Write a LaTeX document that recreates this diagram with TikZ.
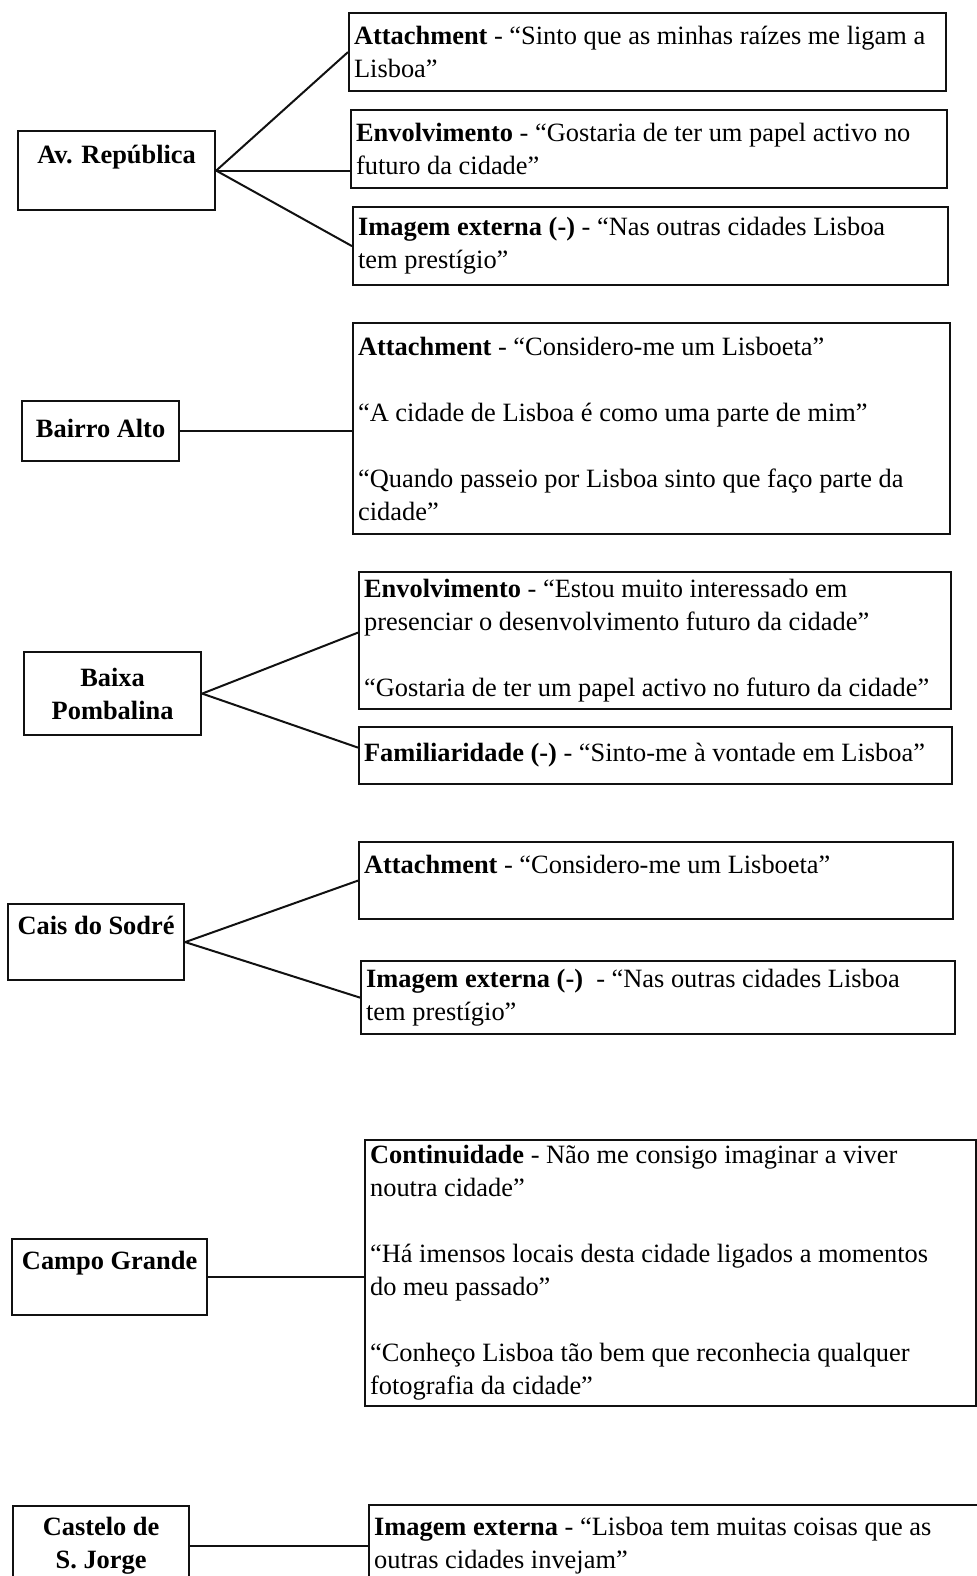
\documentclass[tikz,border=0pt]{standalone}
\usepackage{fontspec}
\setmainfont{Liberation Serif}
\usepackage{tikz}
\usetikzlibrary{positioning}
\definecolor{lxink}{HTML}{111111}
\newcommand{\lxfont}{\fontsize{13.2}{16.5}\selectfont}
\tikzset{
  pbox/.style 2 args={draw=lxink, line width=1.1pt, font=\lxfont\bfseries, align=center, inner sep=0pt, anchor=north west, minimum width=#1, minimum height=#2},
  qbox/.style 2 args={draw=lxink, line width=1.1pt, font=\lxfont, align=flush left, inner xsep=2.5pt, inner ysep=0pt, anchor=north west, text width=#1, minimum height=#2},
  link/.style={draw=lxink, line width=1pt},
}

\begin{document}
\begin{tikzpicture}[x=0.5pt, y=-0.5pt]
  \useasboundingbox (0,0) rectangle (976,1576);
  \node[pbox={98.5pt}{39.5pt}] (avr) at (17,130) {Av. República\\\mbox{}};
  \node[qbox={293.5pt}{39pt}] (avr1) at (348,12) {\textbf{Attachment} - “Sinto que as minhas raízes me ligam a\\Lisboa”};
  \node[qbox={293pt}{39pt}] (avr2) at (350,109) {\textbf{Envolvimento} - “Gostaria de ter um papel activo no\\futuro da cidade”};
  \node[qbox={292.5pt}{39pt}] (avr3) at (352,206) {\textbf{Imagem externa (-)} - “Nas outras cidades Lisboa\\tem prestígio”};

  \node[pbox={78.5pt}{30pt}] (balto) at (21,400) {\raisebox{3pt}{Bairro Alto}};
  \node[qbox={293.5pt}{105.5pt}] (balto1) at (352,322) {\textbf{Attachment} - “Considero-me um Lisboeta”\\[16.5pt]“A cidade de Lisboa é como uma parte de mim”\\[16.5pt]“Quando passeio por Lisboa sinto que faço parte da\\cidade”};

  \node[pbox={88.5pt}{41.5pt}] (baixa) at (23,651) {Baixa\\Pombalina};
  \node[qbox={291pt}{68.5pt}] (baixa1) at (358,571) {\textbf{Envolvimento} - “Estou muito interessado em\\presenciar o desenvolvimento futuro da cidade”\\[16.5pt]“Gostaria de ter um papel activo no futuro da cidade”};
  \node[qbox={291.5pt}{28.5pt}] (baixa2) at (358,726) {\textbf{Familiaridade (-)} - “Sinto-me à vontade em Lisboa”};

  \node[pbox={88pt}{38pt}] (cais) at (7,903) {Cais do Sodré\\\mbox{}};
  \node[qbox={292pt}{38.5pt}] (cais1) at (358,841) {\textbf{Attachment} - “Considero-me um Lisboeta”\\\mbox{}};
  \node[qbox={292pt}{36.5pt}] (cais2) at (360,960) {\textbf{Imagem externa (-)}\ \ - “Nas outras cidades Lisboa\\tem prestígio”};

  \node[pbox={97.5pt}{38pt}] (campo) at (11,1238) {Campo Grande\\\mbox{}};
  \node[qbox={300.5pt}{133pt}] (campo1) at (364,1139) {\textbf{Continuidade} - Não me consigo imaginar a viver\\noutra cidade”\\[16.5pt]“Há imensos locais desta cidade ligados a momentos\\do meu passado”\\[16.5pt]“Conheço Lisboa tão bem que reconhecia qualquer\\fotografia da cidade”};

  \node[pbox={88pt}{40pt}] (castelo) at (12,1505) {Castelo de\\S. Jorge};
  \node[qbox={305pt}{40.5pt}] (castelo1) at (368,1504) {\textbf{Imagem externa} - “Lisboa tem muitas coisas que as\\outras cidades invejam”};

  \foreach \a/\b in {avr/avr1, avr/avr3, cais/cais1, cais/cais2}
    \draw[link] (\a.east) -- (\b.west);
  \foreach \a/\b in {avr/avr2, balto/balto1, campo/campo1, castelo/castelo1}
    \draw[link] (\a.east) -- (\a.east -| \b.west);
  \draw[link] (baixa.east) -- ([yshift=4pt]baixa1.west);
  \draw[link] (baixa.east) -- ([yshift=4pt]baixa2.west);
\end{tikzpicture}
\end{document}
